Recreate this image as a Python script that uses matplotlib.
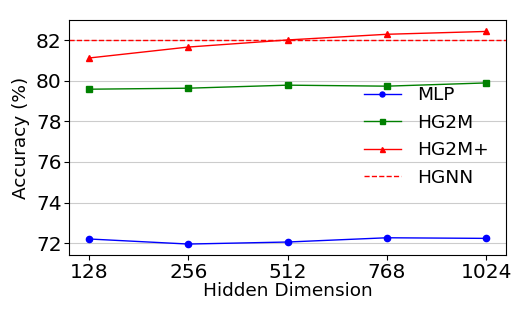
import numpy as np
import matplotlib.pyplot as plt

dims = ['128', '256', '512', '768', '1024']
mlp = [72.2, 71.95, 72.05, 72.26, 72.23]
hg2m = [79.59, 79.64, 79.79, 79.74, 79.9]
hg2m_plus = [81.13, 81.67, 82.02, 82.3, 82.44]
hgnn = 82.0

x = np.arange(len(dims))

fig, ax = plt.subplots(figsize=(5.32, 3.19), dpi=100)
ax.plot(x, mlp, color='blue', marker='o', markersize=4.5, linewidth=1, label='MLP')
ax.plot(x, hg2m, color='green', marker='s', markersize=4.5, linewidth=1, label='HG2M')
ax.plot(x, hg2m_plus, color='red', marker='^', markersize=4.5, linewidth=1, label='HG2M+')
ax.axhline(hgnn, color='red', linestyle='--', linewidth=1, label='HGNN')

ax.set_xticks(x)
ax.set_xticklabels(dims)
ax.set_xlim(-0.2, 4.2)
ax.set_ylim(71.4, 83.0)
ax.set_yticks([72, 74, 76, 78, 80, 82])
ax.tick_params(labelsize=14.5, pad=2)
ax.grid(axis='y', color='#cccccc')
ax.set_axisbelow(True)
ax.set_xlabel('Hidden Dimension', fontsize=13.3, labelpad=0)
ax.set_ylabel('Accuracy (%)', fontsize=13.3)
ax.legend(fontsize=13.3, frameon=False, loc='upper right', bbox_to_anchor=(1.0, 0.79),
          handlelength=2.0, handletextpad=0.9, labelspacing=0.52, markerscale=0.8)

plt.subplots_adjust(left=0.13, right=0.951, top=0.937, bottom=0.2)
plt.savefig('out.png')
